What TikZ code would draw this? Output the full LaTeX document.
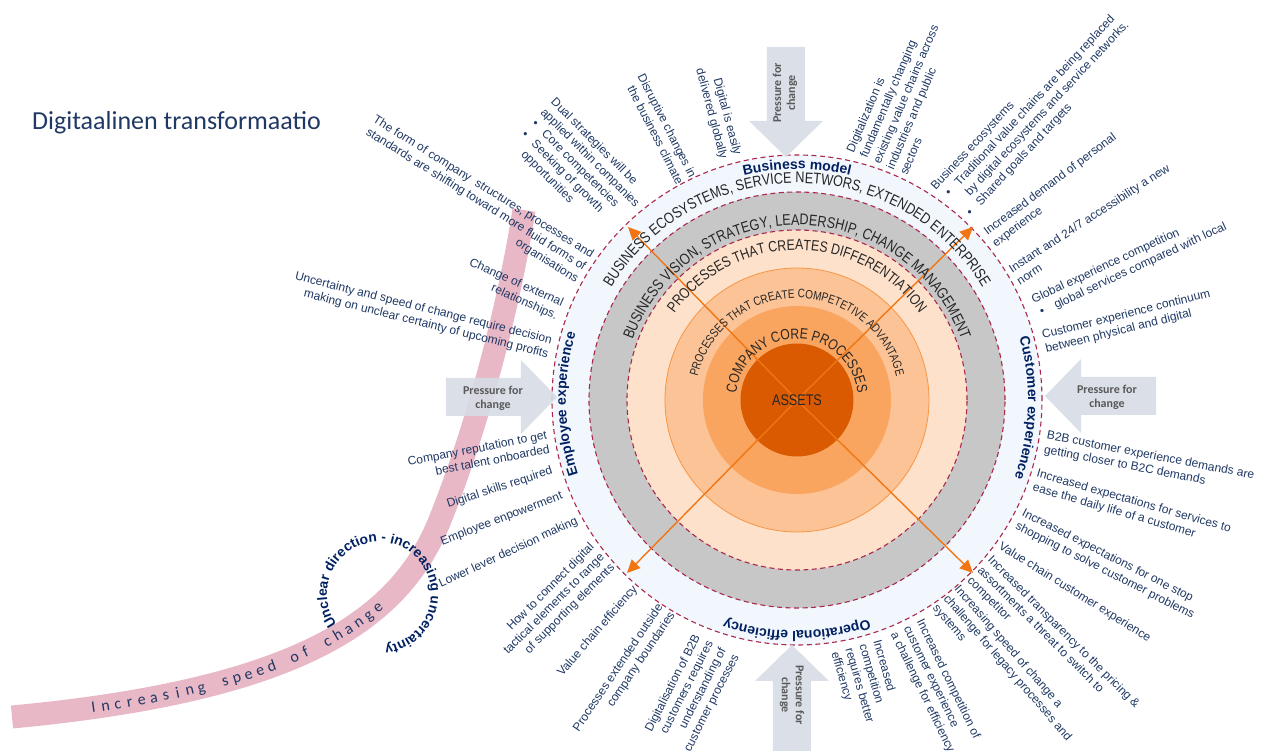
\documentclass[tikz,border=0pt]{standalone}
\usepackage{fontspec}
\setmainfont{Liberation Sans}
\newfontfamily\ringfont[FakeStretch=0.82]{Liberation Sans}
\newfontfamily\calfont{Carlito}
\usetikzlibrary{arrows.meta,calc,decorations.text,decorations.markings}
\definecolor{navy}{RGB}{31,56,100}
\definecolor{navyb}{RGB}{0,32,96}
\definecolor{ringln}{RGB}{170,40,75}
\definecolor{outerfill}{RGB}{242,246,253}
\definecolor{ringgray}{RGB}{199,199,199}
\definecolor{peach}{RGB}{253,225,203}
\definecolor{compfill}{RGB}{251,195,150}
\definecolor{compline}{RGB}{247,150,70}
\definecolor{corefill}{RGB}{250,165,95}
\definecolor{assetfill}{RGB}{217,90,0}
\definecolor{arrorange}{RGB}{240,118,20}
\definecolor{prsfill}{RGB}{214,220,229}
\definecolor{prstext}{RGB}{89,89,89}
\definecolor{bandpink}{RGB}{233,184,198}
\definecolor{ringtxt}{RGB}{38,38,38}
\newcommand\rsz[1]{\ringfont\fontsize{#1}{#1}\selectfont}
\newcommand\lbul[2]{\hspace*{#1}\textbullet\hspace*{#2}}
\newcommand\speedchar[1]{\ifcase#1\or I\or n\or c\or r\or e\or a\or s\or i\or n\or g\or\or
  s\or p\or e\or e\or d\or\or o\or f\or\or c\or h\or a\or n\or g\or e\fi}
\tikzset{
  lbl/.style={font=\fontsize{12}{14.5}\selectfont,text=navy,inner sep=0pt},
  lbll/.style={lbl,align=right,anchor=north east},
  lblr/.style={lbl,align=left,anchor=north west},
  dsh/.style={draw=ringln,line width=1.1pt,dash pattern=on 5pt off 3.5pt},
  ray/.style={draw=arrorange,line width=1.4pt,-{Triangle[length=13pt,width=12pt]}},
  prs/.style={font=\calfont\bfseries\fontsize{12}{14}\selectfont,text=prstext,align=center,inner sep=0pt},
  spd/.style={font=\calfont\fontsize{16}{16}\selectfont,text=navy,inner sep=0pt},
  ttl/.style={font=\calfont\fontsize{26}{30}\selectfont,text=navy,inner sep=0pt},
  band/.style={draw=bandpink,line width=23pt},
  % curved captions: plain ones for the rings, bold ones for the four sides
  rtxt/.style={decorate,decoration={text along path,text align=center,text color=ringtxt,text={#1}}},
  btxt/.style={decorate,decoration={text along path,text align=center,text color=navyb,
    text={|\bfseries\fontsize{14}{14}\selectfont|#1}}},
  pics/pressure/.style={code={
    \fill[prsfill,opacity=.9] (0,0) -- (-36,37) -- (-36,19) -- (-#1,19) -- (-#1,-19)
      -- (-36,-19) -- (-36,-37) -- cycle;}},
}

\begin{document}
\begin{tikzpicture}[x=1pt,y=1pt]
\useasboundingbox (-797,-351) rectangle (470,400);
\coordinate (ctr) at (0,0);

% the band of speed, under everything else
\draw[band] (-785,-317) .. controls (-497,-290) and (-397,-220) .. (-357,-120)
  .. controls (-317,-20) and (-287,100) .. (-273,190);
\path[decorate,decoration={markings,
  mark=between positions 82pt and 400pt step 12.2pt with {
    \node[spd,transform shape,anchor=base] at (0pt,-5pt)
      {\speedchar{\pgfkeysvalueof{/pgf/decoration/mark info/sequence number}}};}}]
  (-785,-317) .. controls (-497,-290) and (-397,-220) .. (-357,-120)
  .. controls (-317,-20) and (-287,100) .. (-273,190);
\coordinate (unc) at (-418,-194);
\path[decorate,decoration={text along path,text color=navyb,
  text={|\bfseries\fontsize{13.8}{14}\selectfont|Unclear direction - increasing uncertainty}}]
  ([shift={(216:52)}]unc) arc[start angle=216,end angle=-140,radius=52];

% rings, outside in
\fill[outerfill] (ctr) circle[radius=245];
\draw[dsh] (ctr) circle[radius=245];
\fill[ringgray] (ctr) circle[radius=208];
\draw[dsh] (ctr) circle[radius=208];
\fill[peach] (ctr) circle[radius=170];
\draw[dsh] (ctr) circle[radius=170];
\draw[fill=compfill,draw=compline,line width=.8pt] (ctr) circle[radius=132];
\fill[corefill] (ctr) circle[radius=94];
\fill[assetfill] (ctr) circle[radius=56.5];

% the four rays
\coordinate (tipNW) at (-169,173);
\coordinate (tipNE) at (176,173);
\coordinate (tipSW) at (-170,-173);
\coordinate (tipSE) at (176,-173);
\foreach \t in {tipNW,tipNE,tipSW,tipSE}
  \draw[ray] (ctr) -- (\t);

\node[font=\rsz{15.4},text=ringtxt,inner sep=0pt] (assets) at (ctr) {ASSETS};
\path[rtxt={|\rsz{15.4}|BUSINESS ECOSYSTEMS, SERVICE NETWORS, EXTENDED ENTERPRISE}]
  (170:217) arc[start angle=170,end angle=10,radius=217];
\path[rtxt={|\rsz{15.4}|BUSINESS VISION, STRATEGY, LEADERSHIP, CHANGE MANAGEMENT}]
  (178:175) arc[start angle=178,end angle=2,radius=175];
\path[rtxt={|\rsz{15}|PROCESSES THAT CREATES DIFFERENTIATION}]
  (175:150) arc[start angle=175,end angle=5,radius=150];
\path[rtxt={|\rsz{12.2}|PROCESSES THAT CREATE COMPETETIVE ADVANTAGE}]
  (180:102) arc[start angle=180,end angle=0,radius=102];
\path[rtxt={|\rsz{14.8}|COMPANY CORE PROCESSES}]
  (185:61) arc[start angle=185,end angle=-5,radius=61];

% side names on the outer ring
\path[btxt=Business model] (150:231) arc[start angle=150,end angle=30,radius=231];
\path[btxt=Customer experience] (58:231) arc[start angle=58,end angle=-62,radius=231];
\path[btxt=Operational efficiency] (-30:231) arc[start angle=-30,end angle=-150,radius=231];
\path[btxt=Employee experience] (241:231) arc[start angle=241,end angle=121,radius=231];

% pressure from the four sides
\pic at (-240,3) {pressure=111};
\pic[rotate=180] at (248,4) {pressure=111};
\pic[rotate=-90] at (-11,243) {pressure=110};
\pic[rotate=90] at (-5,-245) {pressure=106};
\node[prs] (prsL) at (-304,2) {Pressure for\\change};
\node[prs] (prsR) at (310,3) {Pressure for\\change};
\node[prs,rotate=90] (prsT) at (-12,307) {Pressure for\\change};
\node[prs,rotate=-90] (prsB) at (-5,-295) {Pressure for\\change};

% drivers, left half: text ends at the ring
\foreach \nm/\x/\y/\r/\t in {
  dglb/-59/245/-75/{Digital is easily\\delivered globally},
  disr/-104/223/-63/{Disruptive changes in\\the business climate},
  form/-204/145/-32/{The form of company~ structures, processes and\\standards are shifting toward more fluid forms of\\organisations},
  extr/-234/97/-24/{Change of external\\relationships.},
  uncr/-245/60/-14/{Uncertainty and speed of change require decision\\making on unclear certainty of upcoming profits},
  reput/-250/-35/11/{Company reputation to get\\best talent onboarded},
  skil/-245/-70/18/{Digital skills required},
  empw/-235/-95/21/{Employee enpowerment},
  lowr/-220/-120/25/{Lower lever decision making},
  conn/-205/-145/45/{How to connect digital\\tactical elements to range\\of supporting elements},
  vcef/-162/-187/49/{Value chain efficiency},
  prext/-137/-205/56/{Processes extended outside\\company boundaries},
  dgb2b/-100/-235/63/{Digitalisation of B2B\\customers requires\\understanding of\\customer processes}%
}{\node[lbll,rotate=\r] (\nm) at ($(\x,\y)+(\r+90:5)$) {\t};}
\node[lblr,rotate=-45] (dual) at ($(-244,300)+(45:5)$) {Dual strategies will be\\applied within companies\\
  \lbul{2pt}{9.8pt}Core competencies\\\lbul{2pt}{9.8pt}Seeking of growth\\\hspace*{16pt}opportunities};

% drivers, right half: text starts at the ring
\foreach \nm/\x/\y/\r/\t in {
  dgzn/53/248/67/{Digitalization is\\fundamentally changing\\existing value chains across\\industries and public\\sectors},
  prsn/188/167/37/{Increased demand of personal\\experience},
  inst/213/130/33/{Instant and 24/7 accessibility a new\\norm},
  cxcn/245/65/14/{Customer experience continuum\\between physical and digital},
  b2bc/250/-35/-11/{B2B customer experience demands are\\getting closer to B2C demands},
  dlyl/240/-73/-16/{Increased expectations for services to\\ease the daily life of a customer},
  stop/226/-112/-27/{Increased expectations for one stop\\shopping to solve customer problems},
  vccx/203/-145/-32/{Value chain customer experience},
  trns/193/-158/-45/{Increased transparency to the pricing \&\\assortments a threat to switch to\\competitor},
  lgcy/160/-187/-49/{Increasing speed of change a\\challenge for legacy processes and\\systems},
  cmpc/123/-220/-64/{Increased competition of\\customer experience\\a challenge for efficiency},
  cmpr/80/-240/-74/{Increased\\competition\\requires better\\efficiency}%
}{\node[lblr,rotate=\r] (\nm) at ($(\x,\y)+(\r+90:5)$) {\t};}
\node[lblr,rotate=47] (ecos) at ($(136,212)+(137:5)$) {Business ecosystems\\
  \lbul{5pt}{9.8pt}Traditional value chains are being replaced\\\hspace*{19pt}by digital ecosystems and service networks.\\
  \lbul{5pt}{9.8pt}Shared goals and targets};
\node[lblr,rotate=25] (glob) at ($(235,100)+(115:5)$) {Global experience competition\\
  \lbul{2pt}{11.8pt}global services compared with local};

\node[ttl,anchor=base west] (title) at (-765,270) {Digitaalinen transformaatio};
\end{tikzpicture}
\end{document}
